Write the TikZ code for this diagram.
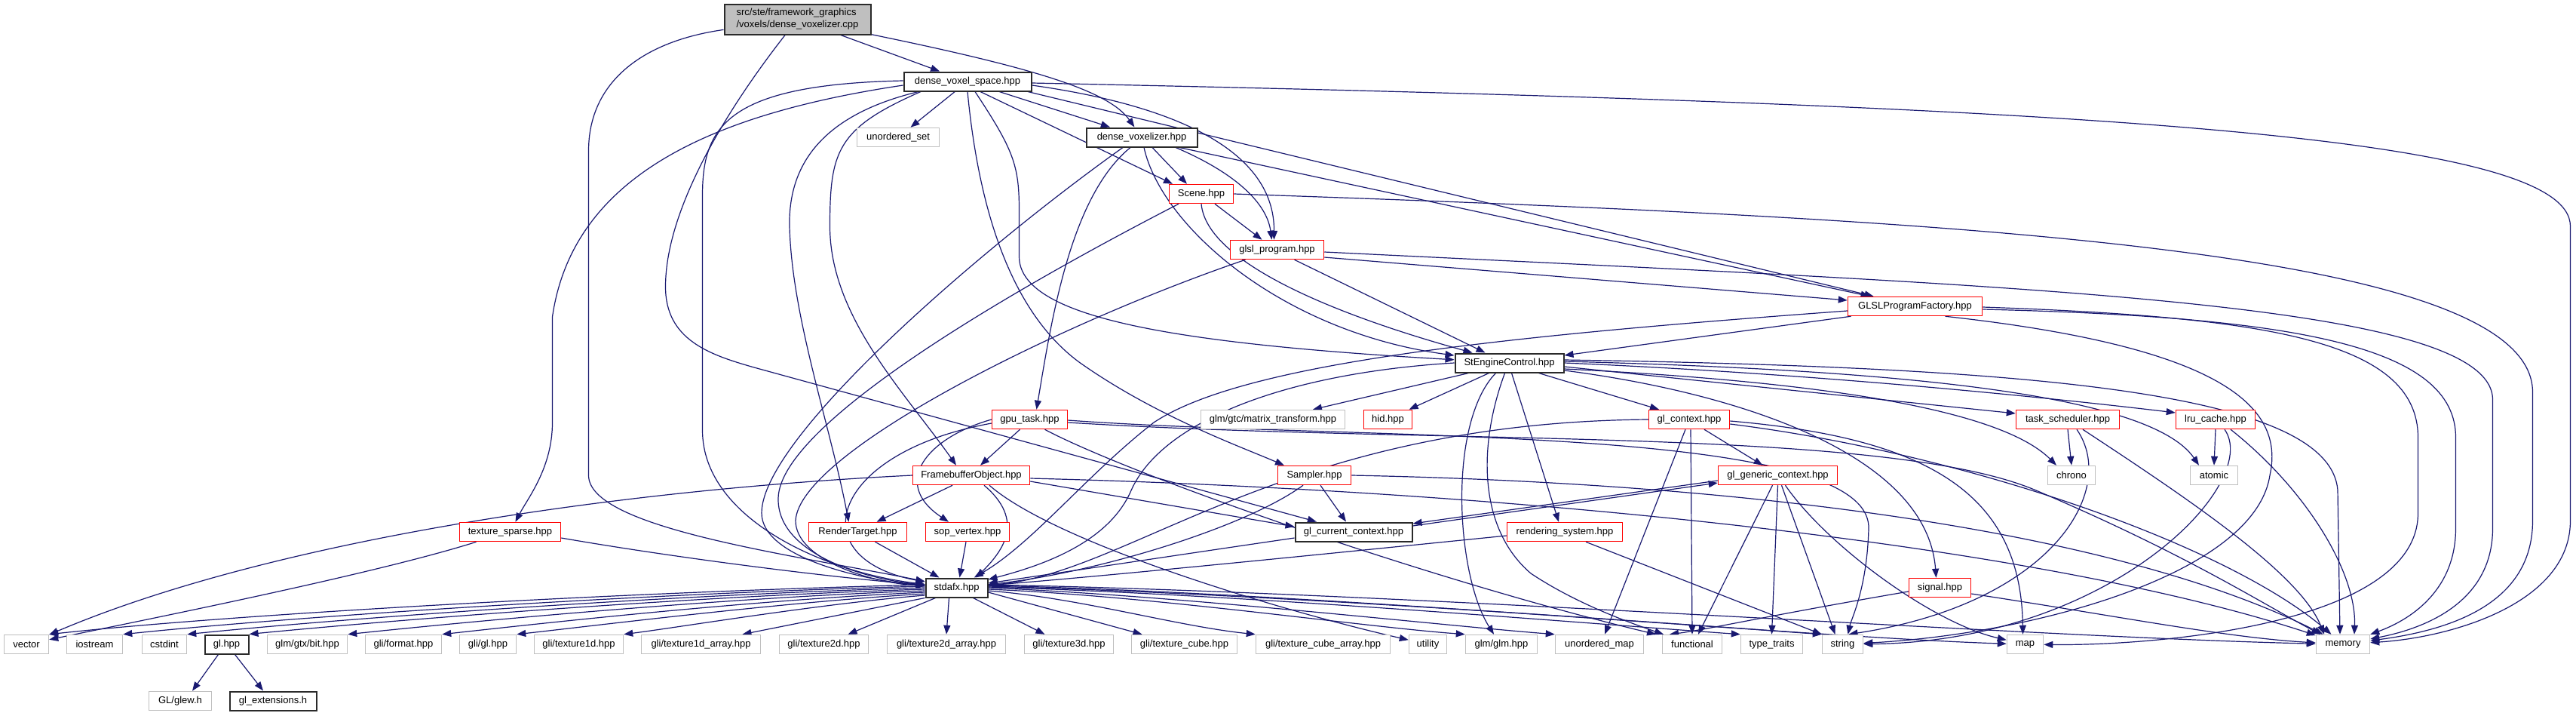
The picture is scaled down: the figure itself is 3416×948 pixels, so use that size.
\documentclass[tikz,border=0pt]{standalone}
\usepackage{fontspec}
\setmainfont{Liberation Sans}
\usetikzlibrary{arrows.meta}
\pgfdeclarelayer{bg}
\pgfsetlayers{bg,main}
\definecolor{edgec}{HTML}{191970}
\definecolor{grayc}{HTML}{BFBFBF}
\definecolor{redc}{HTML}{FF0000}
\definecolor{blackc}{HTML}{2A2A2A}
\definecolor{rootfill}{HTML}{BFBFBF}
\newcommand{\nodefont}{\fontsize{13pt}{16pt}\selectfont}
\tikzset{
  nb/.style={rectangle, minimum height=25pt, inner sep=0pt, fill=white, line width=1.5pt, font=\nodefont},
  gn/.style={nb, draw=grayc},
  rn/.style={nb, draw=redc},
  kn/.style={nb, draw=blackc, line width=2pt},
  rootbox/.style={rectangle, draw=blackc, fill=rootfill, line width=2pt, minimum height=40pt, inner sep=0pt, align=left, font=\nodefont},
  ed/.style={draw=edgec, line width=1.2pt, -{Triangle[length=12pt,width=9pt]}},
}
\begin{document}
\begin{tikzpicture}[x=1pt,y=-1pt]
\useasboundingbox (0,0) rectangle (3416,948);
% ---------- nodes ----------
\node[rootbox, minimum width=194pt] (R) at (1057.5,25.5) {src/ste/framework\_graphics\\/voxels/dense\_voxelizer.cpp};
\node[kn, minimum width=169pt] (dvs) at (1283,108) {dense\_voxel\_space.hpp};
\node[gn, minimum width=109pt] (uset) at (1191,182) {unordered\_set};
\node[kn, minimum width=147pt] (dvz) at (1514,182) {dense\_voxelizer.hpp};
\node[rn, minimum width=85pt] (scene) at (1593,257) {Scene.hpp};
\node[rn, minimum width=124pt] (glsl) at (1693.5,331) {glsl\_program.hpp};
\node[rn, minimum width=178pt] (glslf) at (2539.5,406) {GLSLProgramFactory.hpp};
\node[kn, minimum width=144pt] (sec) at (2001.5,481) {StEngineControl.hpp};
\node[rn, minimum width=100pt] (gput) at (1365.5,556) {gpu\_task.hpp};
\node[gn, minimum width=191pt] (mtx) at (1688,556) {glm/gtc/matrix\_transform.hpp};
\node[rn, minimum width=64pt] (hid) at (1840.5,556) {hid.hpp};
\node[rn, minimum width=107pt] (glc) at (2240,556) {gl\_context.hpp};
\node[rn, minimum width=137pt] (tsk) at (2742,556) {task\_scheduler.hpp};
\node[rn, minimum width=105pt] (lru) at (2938,556) {lru\_cache.hpp};
\node[rn, minimum width=155pt] (fbo) at (1288,630) {FramebufferObject.hpp};
\node[rn, minimum width=97pt] (smp) at (1743,630) {Sampler.hpp};
\node[rn, minimum width=158pt] (ggc) at (2357.5,630) {gl\_generic\_context.hpp};
\node[gn, minimum width=63pt] (chrono) at (2747,630) {chrono};
\node[gn, minimum width=63pt] (atomic) at (2936,630) {atomic};
\node[rn, minimum width=134pt] (texsp) at (676.5,705) {texture\_sparse.hpp};
\node[rn, minimum width=130pt] (rt) at (1137.5,705) {RenderTarget.hpp};
\node[rn, minimum width=111pt] (sop) at (1283,705) {sop\_vertex.hpp};
\node[kn, minimum width=155pt] (gcc) at (1795,705) {gl\_current\_context.hpp};
\node[rn, minimum width=153pt] (rsys) at (2075,705) {rendering\_system.hpp};
\node[kn, minimum width=82pt] (std) at (1268.5,779) {stdafx.hpp};
\node[rn, minimum width=82pt] (sig) at (2572.5,779) {signal.hpp};
% bottom row
\node[gn, minimum width=59pt] (vector) at (35,854) {vector};
\node[gn, minimum width=74pt] (iostream) at (125.5,854) {iostream};
\node[gn, minimum width=59pt] (cstdint) at (218,854) {cstdint};
\node[kn, minimum width=58pt] (glhpp) at (300.5,854) {gl.hpp};
\node[gn, minimum width=106pt] (gtxbit) at (407.5,854) {glm/gtx/bit.hpp};
\node[gn, minimum width=101pt] (format) at (535,854) {gli/format.hpp};
\node[gn, minimum width=75pt] (gligl) at (647,854) {gli/gl.hpp};
\node[gn, minimum width=118pt] (tod) at (767.5,854) {gli/texture1d.hpp};
\node[gn, minimum width=158pt] (toda) at (929.5,854) {gli/texture1d\_array.hpp};
\node[gn, minimum width=118pt] (ttd) at (1092.5,854) {gli/texture2d.hpp};
\node[gn, minimum width=157pt] (ttda) at (1255,854) {gli/texture2d\_array.hpp};
\node[gn, minimum width=118pt] (thd) at (1417.5,854) {gli/texture3d.hpp};
\node[gn, minimum width=140pt] (tcube) at (1570.5,854) {gli/texture\_cube.hpp};
\node[gn, minimum width=178pt] (tcubea) at (1754.5,854) {gli/texture\_cube\_array.hpp};
\node[gn, minimum width=50pt] (utility) at (1893.5,854) {utility};
\node[gn, minimum width=95pt] (glmglm) at (1991,854) {glm/glm.hpp};
\node[gn, minimum width=117pt] (umap) at (2121,854) {unordered\_map};
\node[gn, minimum width=79pt] (func) at (2244,854) {functional};
\node[gn, minimum width=82pt] (ttraits) at (2349.5,854) {type\_traits};
\node[gn, minimum width=54pt] (string) at (2443.5,854) {string};
\node[gn, minimum width=48pt] (map) at (2685.5,854) {map};
\node[gn, minimum width=71pt] (memory) at (3107,854) {memory};
\node[gn, minimum width=83pt] (glew) at (239,929) {GL/glew.h};
\node[kn, minimum width=115pt] (glext) at (362,929) {gl\_extensions.h};
% ---------- edges ----------
\begin{pgfonlayer}{bg}
% root
\draw[ed] (R) -- (dvs);
\draw[ed] (R) .. controls (1371,90) and (1470,120) .. (dvz);
\draw[ed] (R) .. controls (850,55) and (780.5,110) .. (780.5,200) -- (780.5,630) .. controls (780.5,700) and (1050,735) .. (std);
\draw[ed] (R) .. controls (960,150) and (882.5,280) .. (882.5,380) .. controls (882.5,450) and (940,470) .. (1000,487) -- (gcc);
% dense_voxel_space
\draw[ed] (dvs) -- (uset);
\draw[ed] (dvs) -- (dvz);
\draw[ed] ([xshift=17pt]dvs.south) -- ([xshift=-38pt]scene.north);
\draw[ed] ([yshift=-5pt]dvs.east) .. controls (1560,140) and (1690,200) .. ([xshift=-4pt]glsl.north);
\draw[ed] ([xshift=80pt]dvs.south) -- ([xshift=-55pt]glslf.north);
\draw[ed] ([xshift=10pt]dvs.south) .. controls (1345,200) and (1351.5,220) .. (1351.5,280) -- (1351.5,340) .. controls (1351.5,420) and (1550,455) .. (sec);
\draw[ed] ([yshift=-2pt]dvs.east) .. controls (2800,140) and (3408.5,180) .. (3408.5,300) -- (3408.5,690) .. controls (3408.5,800) and (3250,845) .. (memory);
\draw[ed] ([yshift=-5pt]dvs.west) .. controls (950,150) and (760,230) .. (732.5,420) -- (732.5,560) .. controls (732.5,620) and (700,660) .. (texsp);
\draw[ed] ([yshift=1pt]dvs.west) .. controls (960,112) and (931.5,170) .. (931.5,260) -- (931.5,570) .. controls (931.5,690) and (1100,760) .. (std);
\draw[ed] ([xshift=-65pt]dvs.south) .. controls (1100,150) and (1045,210) .. (1047,300) .. controls (1050,420) and (1100,560) .. ([xshift=-12pt]rt.north);
\draw[ed] ([xshift=-62pt]dvs.south) .. controls (1110,170) and (1100.5,200) .. (1100.5,300) .. controls (1100.5,420) and (1200,520) .. ([xshift=-20pt]fbo.north);
\draw[ed] (dvs.south) .. controls (1300,300) and (1350,420) .. (1431,480) .. controls (1530,550) and (1640,590) .. ([xshift=-40pt]smp.north);
% dense_voxelizer
\draw[ed] ([xshift=-25pt]dvz.south) .. controls (1300,330) and (1010,580) .. (1010,680) .. controls (1010,740) and (1150,770) .. (std);
\draw[ed] ([xshift=-15pt]dvz.south) .. controls (1420,260) and (1395,420) .. ([xshift=9pt]gput.north);
\draw[ed] ([xshift=3pt]dvz.south) .. controls (1540,300) and (1700,440) .. (sec);
\draw[ed] ([xshift=14pt]dvz.south) -- ([xshift=-19pt]scene.north);
\draw[ed] ([xshift=45pt]dvz.south) .. controls (1640,230) and (1680,270) .. ([xshift=-7pt]glsl.north);
\draw[ed] ([xshift=50pt]dvz.south) -- ([xshift=-60pt]glslf.north);
% Scene
\draw[ed] ([xshift=-30pt]scene.south) .. controls (1350,380) and (1035,560) .. (1032,660) .. controls (1030,735) and (1150,768) .. (std);
\draw[ed] (scene.south) .. controls (1600,350) and (1780,420) .. (sec);
\draw[ed] ([xshift=18pt]scene.south) -- ([xshift=-20pt]glsl.north);
\draw[ed] (scene.east) .. controls (2600,290) and (3358.5,330) .. (3358.5,520) -- (3358.5,690) .. controls (3358.5,800) and (3250,835) .. (memory);
% glsl_program
\draw[ed] ([xshift=-42pt]glsl.south) .. controls (1400,430) and (1060,600) .. (1055,690) .. controls (1055,740) and (1150,772) .. (std);
\draw[ed] ([xshift=23pt]glsl.south) -- ([xshift=-32pt]sec.north);
\draw[ed] ([yshift=-10pt]glsl.east) -- ([yshift=8pt]glslf.west);
\draw[ed] ([yshift=-3pt]glsl.east) .. controls (2700,380) and (3305.5,400) .. (3305.5,530) -- (3305.5,700) .. controls (3305.5,790) and (3230,830) .. (memory);
% GLSLProgramFactory
\draw[ed] ([xshift=-85pt]glslf.south) -- ([yshift=10pt]sec.east);
\draw[ed] ([yshift=-6pt]glslf.west) .. controls (2000,445) and (1650,480) .. (1530,560) .. controls (1440,630) and (1370,720) .. (std);
\draw[ed] ([xshift=40pt]glslf.south) .. controls (2950,460) and (3030,540) .. (3010,630) .. controls (2990,760) and (2700,840) .. (string);
\draw[ed] ([yshift=-1pt]glslf.east) .. controls (3000,420) and (3206.5,450) .. (3206.5,580) -- (3206.5,680) .. controls (3206.5,830) and (2850,856) .. (map);
\draw[ed] ([yshift=-4pt]glslf.east) .. controls (3050,420) and (3256.5,460) .. (3256.5,580) -- (3256.5,700) .. controls (3256.5,780) and (3200,820) .. (memory);
% StEngineControl
\draw[ed] ([xshift=-54pt]sec.south) -- ([xshift=53pt]mtx.north);
\draw[ed] ([xshift=-27pt]sec.south) -- ([xshift=28pt]hid.north);
\draw[ed] ([xshift=-18pt]sec.south) .. controls (1920,560) and (1930,760) .. ([xshift=-10pt]glmglm.north);
\draw[ed] ([xshift=-6pt]sec.south) .. controls (1960,590) and (1960,700) .. (2030,760) .. controls (2090,800) and (2160,825) .. ([xshift=-38pt]func.north);
\draw[ed] ([xshift=3pt]sec.south) -- ([xshift=-8pt]rsys.north);
\draw[ed] ([xshift=39pt]sec.south) -- ([xshift=-40pt]glc.north);
\draw[ed] ([yshift=-5pt]sec.east) -- ([yshift=8pt]tsk.west);
\draw[ed] (sec.east) .. controls (2400,495) and (2700,525) .. ([yshift=9pt]lru.west);
\draw[ed] ([yshift=-8pt]sec.east) .. controls (2400,505) and (2650,540) .. ([xshift=-20pt]chrono.north);
\draw[ed] ([yshift=2pt]sec.east) .. controls (2500,490) and (2850,520) .. ([xshift=-20pt]atomic.north);
\draw[ed] ([yshift=4pt]sec.east) .. controls (2700,487) and (3090,520) .. (3100,650) -- ([xshift=-4pt]memory.north);
\draw[ed] ([yshift=-10pt]sec.east) .. controls (2300,520) and (2555,600) .. ([xshift=-5pt]sig.north);
\draw[ed] (sec.west) .. controls (1700,495) and (1540,560) .. (1500,650) .. controls (1470,720) and (1380,750) .. (std);
% gpu_task
\draw[ed] ([xshift=-13pt]gput.south) -- ([xshift=12pt]fbo.north);
\draw[ed] (gput.west) .. controls (1230,580) and (1180,640) .. ([xshift=-25pt]sop.north);
\draw[ed] ([yshift=-5pt]gput.west) .. controls (1100,600) and (1060,740) .. (std);
\draw[ed] ([xshift=20pt]gput.south) .. controls (1500,630) and (1900,770) .. ([xshift=-48pt]func.north);
\draw[ed] ([yshift=-1pt]gput.east) .. controls (1800,585) and (2480,560) .. (2478,700) .. controls (2476,780) and (2455,820) .. ([xshift=7pt]string.north);
\draw[ed] ([yshift=-4pt]gput.east) .. controls (1900,590) and (2500,565) .. (2700,650) .. controls (2900,735) and (3000,800) .. ([xshift=-30pt]memory.north);
% gl_context
\draw[ed] (glc.west) .. controls (1700,560) and (1500,760) .. (std);
\draw[ed] ([xshift=20pt]glc.south) -- ([xshift=-20pt]ggc.north);
\draw[ed] ([xshift=-5pt]glc.south) -- ([xshift=7pt]umap.north);
\draw[ed] ([xshift=2pt]glc.south) -- (func.north);
\draw[ed] ([yshift=-2pt]glc.east) .. controls (2550,580) and (2680,650) .. ([xshift=-3pt]map.north);
\draw[ed] ([yshift=-6pt]glc.east) .. controls (2600,600) and (2950,720) .. (memory);
% gl_generic_context / gl_current_context
\draw[ed] ([yshift=8pt]gcc.east) -- ([yshift=-10pt]ggc.west);
\draw[ed] ([yshift=-7pt]ggc.west) -- ([yshift=11pt]gcc.east);
\draw[ed] ([xshift=-7pt]ggc.south) -- ([xshift=8pt]func.north);
\draw[ed] (ggc.south) -- (ttraits.north);
\draw[ed] ([xshift=5pt]ggc.south) -- ([xshift=-10pt]string.north);
\draw[ed] ([xshift=10pt]ggc.south) .. controls (2420,720) and (2560,825) .. (map);
\draw[ed] ([yshift=-8pt]gcc.west) .. controls (1600,730) and (1400,760) .. (std);
% Sampler
\draw[ed] ([xshift=8pt]smp.south) -- ([xshift=-10pt]gcc.north);
\draw[ed] ([xshift=-15pt]smp.south) .. controls (1650,700) and (1450,760) .. (std);
\draw[ed] (smp.east) .. controls (2300,640) and (2800,700) .. (memory);
% FramebufferObject
\draw[ed] ([xshift=-25pt]fbo.south) -- ([xshift=25pt]rt.north);
\draw[ed] ([xshift=17pt]fbo.south) .. controls (1360,690) and (1330,730) .. ([xshift=26pt]std.north);
\draw[ed] (fbo.west) .. controls (800,650) and (350,720) .. (vector);
\draw[ed] ([yshift=-8pt]fbo.east) -- ([yshift=7pt]gcc.west);
\draw[ed] ([xshift=24pt]fbo.south) .. controls (1400,720) and (1700,810) .. (utility);
\draw[ed] ([yshift=-4pt]fbo.east) .. controls (2000,650) and (2700,720) .. (memory);
% RenderTarget, sop_vertex
\draw[ed] ([xshift=23pt]rt.south) -- ([xshift=-23pt]std.north);
\draw[ed] ([xshift=-2pt]sop.south) -- ([xshift=4pt]std.north);
% texture_sparse
\draw[ed] ([xshift=-45pt]texsp.south) .. controls (500,760) and (200,820) .. (vector);
\draw[ed] ([yshift=-8pt]texsp.east) .. controls (900,740) and (1100,765) .. (std);
% rendering_system
\draw[ed] ([yshift=-5pt]rsys.west) .. controls (1700,740) and (1450,765) .. (std);
\draw[ed] ([xshift=28pt]rsys.south) -- (string.north west);
% signal
\draw[ed] ([yshift=-5pt]sig.west) .. controls (2350,815) and (2260,835) .. ([xshift=-30pt]func.north);
\draw[ed] ([yshift=-8pt]sig.east) .. controls (2800,815) and (2950,845) .. (memory);
% task_scheduler
\draw[ed] (tsk.south) -- (chrono.north);
\draw[ed] ([xshift=12pt]tsk.south) .. controls (2810,650) and (2720,800) .. ([xshift=8pt]string.north);
\draw[ed] ([xshift=20pt]tsk.south) .. controls (2900,660) and (3050,760) .. ([xshift=-25pt]memory.north);
% lru_cache
\draw[ed] (lru.south) -- (atomic.north);
\draw[ed] ([xshift=12pt]lru.south) .. controls (3000,640) and (2800,850) .. (string);
\draw[ed] ([xshift=20pt]lru.south) .. controls (3060,650) and (3125,760) .. ([xshift=15pt]memory.north);
% gl.hpp
\draw[ed] ([xshift=-11pt]glhpp.south) -- ([xshift=16pt]glew.north);
\draw[ed] ([xshift=11pt]glhpp.south) -- ([xshift=-13pt]glext.north);
% stdafx to the left
\draw[ed] ([yshift=4pt]std.west) .. controls (820,785) and (300,815) .. (vector.north east);
\draw[ed] ([yshift=2pt]std.west) .. controls (860,786) and (380,818) .. (iostream.north east);
\draw[ed] ([yshift=0pt]std.west) .. controls (890,788) and (450,820) .. (cstdint.north east);
\draw[ed] ([yshift=-2pt]std.west) .. controls (920,790) and (520,822) .. (glhpp.north east);
\draw[ed] ([yshift=-4pt]std.west) .. controls (960,792) and (620,824) .. (gtxbit.north east);
\draw[ed] ([yshift=-6pt]std.west) .. controls (1000,795) and (720,826) .. (format.north east);
\draw[ed] ([yshift=-8pt]std.west) .. controls (1040,798) and (800,828) .. (gligl.north east);
\draw[ed] ([yshift=-10pt]std.west) .. controls (1090,800) and (910,830) .. (tod.north east);
% stdafx downwards
\draw[ed] (std.south west) -- ([xshift=55pt]toda.north);
\draw[ed] ([xshift=-28pt]std.south) -- ([xshift=32pt]ttd.north);
\draw[ed] ([xshift=-10pt]std.south) -- (ttda.north);
\draw[ed] ([xshift=22pt]std.south) -- ([xshift=-32pt]thd.north);
\draw[ed] ([yshift=-6pt]std.east) -- ([xshift=-56pt]tcube.north);
% stdafx to the right
\draw[ed] ([yshift=-4pt]std.east) .. controls (1430,792) and (1560,830) .. (tcubea.north west);
\draw[ed] ([yshift=-2pt]std.east) .. controls (1530,790) and (1800,830) .. (glmglm.north west);
\draw[ed] ([yshift=0pt]std.east) .. controls (1570,790) and (1900,828) .. (umap.north west);
\draw[ed] ([yshift=1pt]std.east) .. controls (1650,788) and (2100,826) .. (ttraits.north west);
\draw[ed] ([yshift=2pt]std.east) .. controls (1680,787) and (2200,825) .. (string.north west);
\draw[ed] ([yshift=3pt]std.east) .. controls (1750,786) and (2400,845) .. (map);
\draw[ed] ([yshift=4pt]std.east) .. controls (1850,785) and (2700,845) .. (memory);
\end{pgfonlayer}
\end{tikzpicture}
\end{document}
